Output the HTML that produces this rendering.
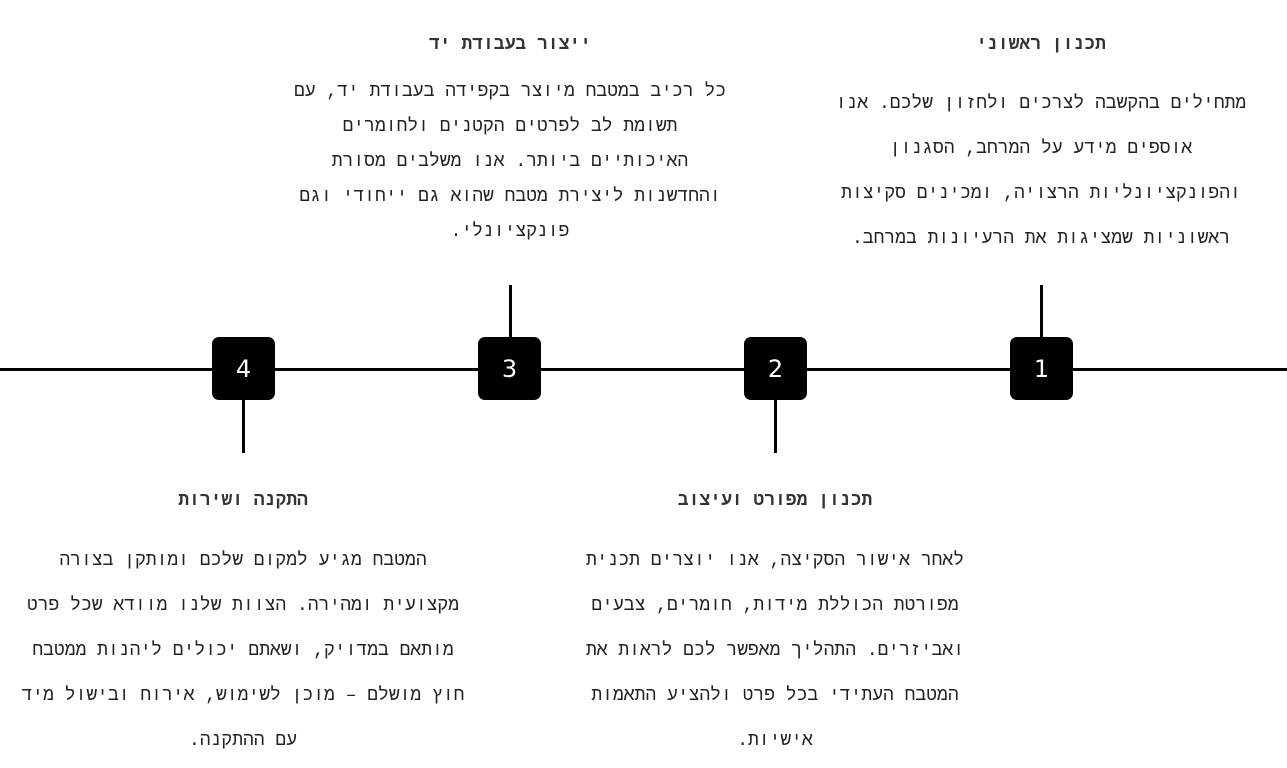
<!DOCTYPE html>
<html lang="he" dir="rtl"><head><meta charset="utf-8">
<style>
body{margin:0;width:1287px;height:768px;background:#fff;position:relative;overflow:hidden;font-family:"Liberation Mono","DejaVu Sans Mono",monospace;color:#222;}
.h{position:absolute;width:460px;text-align:center;font-weight:bold;font-size:18px;font-family:"Liberation Mono","DejaVu Sans Mono",monospace;direction:rtl;white-space:nowrap;color:#333}
.t{position:absolute;width:480px;text-align:center;font-size:18px;direction:rtl;white-space:nowrap}
.b{position:absolute;width:63px;height:63px;background:#000;border-radius:7px;color:#fff;font:24px "DejaVu Sans",sans-serif;display:flex;align-items:center;justify-content:center;top:337px}
.v{position:absolute;width:3px;background:#000}
</style></head><body>
<div style="position:absolute;left:0;top:368px;width:1287px;height:3px;background:#000"></div>
<div class="v" style="left:1040px;top:285px;height:55px"></div>
<div class="v" style="left:509px;top:285px;height:55px"></div>
<div class="v" style="left:774px;top:398px;height:55px"></div>
<div class="v" style="left:242px;top:398px;height:55px"></div>
<div class="b" style="left:212px">4</div>
<div class="b" style="left:478px">3</div>
<div class="b" style="left:744px">2</div>
<div class="b" style="left:1010px">1</div>

<div class="h" style="left:811px;top:35px">תכנון ראשוני</div>
<div class="t" style="left:801px;top:82px;line-height:45px">מתחילים בהקשבה לצרכים ולחזון שלכם. אנו<br>אוספים מידע על המרחב, הסגנון<br>והפונקציונליות הרצויה, ומכינים סקיצות<br>ראשוניות שמציגות את הרעיונות במרחב.</div>

<div class="h" style="left:280px;top:35px">ייצור בעבודת יד</div>
<div class="t" style="left:270px;top:75px;line-height:35px">כל רכיב במטבח מיוצר בקפידה בעבודת יד, עם<br>תשומת לב לפרטים הקטנים ולחומרים<br>האיכותיים ביותר. אנו משלבים מסורת<br>והחדשנות ליצירת מטבח שהוא גם ייחודי וגם<br>פונקציונלי.</div>

<div class="h" style="left:545px;top:491px">תכנון מפורט ועיצוב</div>
<div class="t" style="left:535px;top:539px;line-height:45px">לאחר אישור הסקיצה, אנו יוצרים תכנית<br>מפורטת הכוללת מידות, חומרים, צבעים<br>ואביזרים. התהליך מאפשר לכם לראות את<br>המטבח העתידי בכל פרט ולהציע התאמות<br>אישיות.</div>

<div class="h" style="left:13px;top:491px">התקנה ושירות</div>
<div class="t" style="left:3px;top:539px;line-height:45px">המטבח מגיע למקום שלכם ומותקן בצורה<br>מקצועית ומהירה. הצוות שלנו מוודא שכל פרט<br>מותאם במדויק, ושאתם יכולים ליהנות ממטבח<br>חוץ מושלם – מוכן לשימוש, אירוח ובישול מיד<br>עם ההתקנה.</div>
</body></html>
